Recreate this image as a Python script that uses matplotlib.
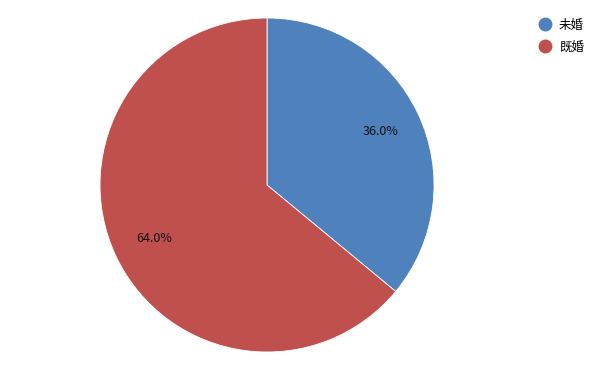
import matplotlib
matplotlib.use('Agg')
import matplotlib.pyplot as plt
from matplotlib.lines import Line2D

plt.rcParams['font.family'] = ['Noto Sans CJK SC', 'DejaVu Sans']

labels = ['未婚', '既婚']
values = [36.0, 64.0]
colors = ['#4F81BD', '#C0504D']

fig = plt.figure(figsize=(6, 3.71), dpi=100)
ax = fig.add_axes([0.1667, 0.0512, 0.5567, 0.9003])
wedges, texts, autotexts = ax.pie(values, colors=colors, startangle=90, counterclock=False,
                                  autopct='%.1f%%', pctdistance=0.75,
                                  wedgeprops=dict(edgecolor='white', linewidth=0.6),
                                  textprops=dict(fontsize=9, color='#111111'))
ax.set_aspect('equal')
ax.set_xlim(-1, 1)
ax.set_ylim(-1, 1)

handles = [Line2D([0], [0], marker='o', linestyle='', markersize=9,
                  markerfacecolor=c, markeredgecolor=c) for c in colors]
fig.legend(handles, labels, loc='upper left', bbox_to_anchor=(0.877, 0.98),
           frameon=False, fontsize=9, handletextpad=0.5, labelspacing=0.7,
           handlelength=1.2)

fig.savefig('out.png', dpi=100)
